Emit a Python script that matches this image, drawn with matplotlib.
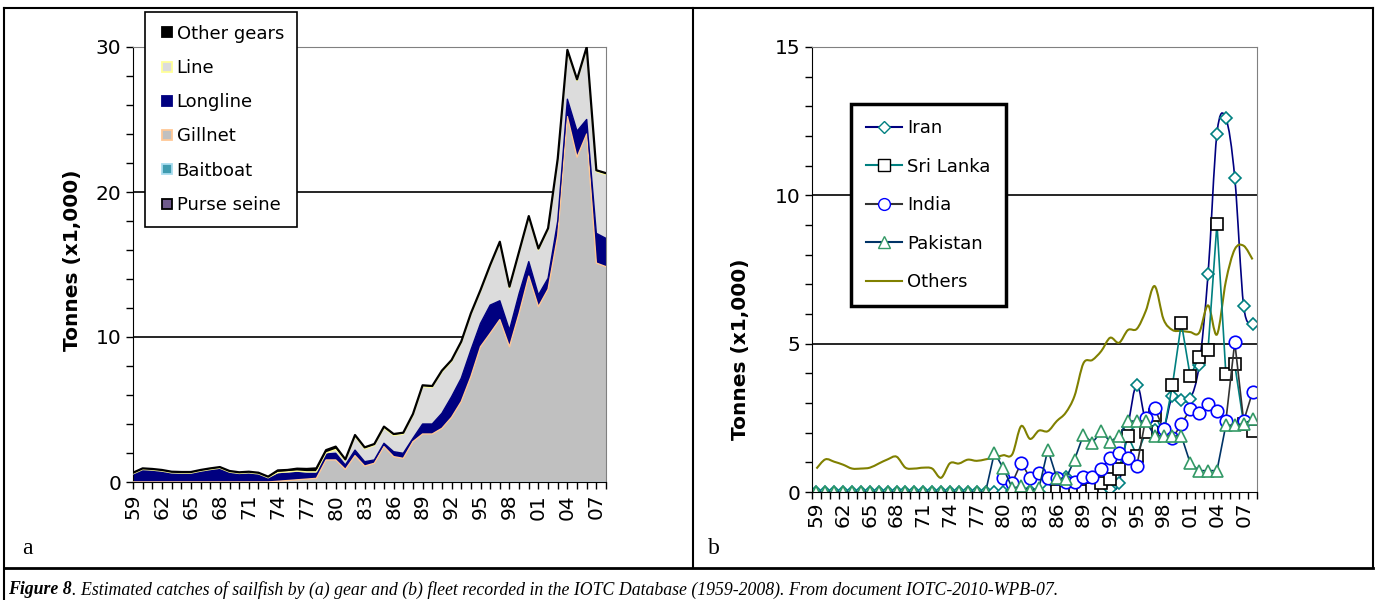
import numpy as np
import matplotlib
matplotlib.use('Agg')
import matplotlib.pyplot as plt
from matplotlib.path import Path
from matplotlib.patches import PathPatch
from matplotlib.lines import Line2D

# ---- data -------------------------------------------------------------
years = list(range(1959, 2009))

# panel a: catches by gear (x1,000 t), stacked bottom -> top
purse_seine = [0.0] * 50
baitboat = [0.0] * 50
gillnet = [0.0] * 15 + [0.05, 0.1, 0.15, 0.2, 0.25,
           1.52, 1.52, 0.87, 1.82, 1.10, 1.29, 2.44, 1.75, 1.63, 2.78,
           3.31, 3.31, 3.70, 4.46, 5.54, 7.26, 9.33, 10.25, 11.2, 9.33,
           11.63, 14.2, 12.09, 13.3, 17.0, 25.2, 22.4, 24.0, 15.1, 14.85]
longline = [0.52, 0.82, 0.78, 0.71, 0.59, 0.57, 0.57, 0.71, 0.82, 0.91,
            0.64, 0.55, 0.59, 0.52, 0.25, 0.5, 0.5, 0.5, 0.4, 0.35,
            0.41, 0.46, 0.30, 0.38, 0.30, 0.23, 0.23, 0.34, 0.35, 0.23,
            0.69, 0.69, 1.04, 1.42, 1.61, 1.84, 1.61, 1.95, 1.3, 1.15,
            1.37, 1.0, 0.81, 0.75, 1.0, 1.2, 1.8, 1.0, 2.05, 1.95]
line = [0.04] * 15 + [0.1, 0.1, 0.1, 0.1, 0.1,
        0.07, 0.26, 0.29, 0.94, 0.89, 1.0, 1.05, 1.12, 1.32, 1.58,
        2.57, 2.52, 2.84, 2.43, 2.43, 2.43, 2.2, 2.67, 3.97, 2.89,
        2.8, 3.04, 3.1, 3.35, 4.2, 3.3, 3.47, 4.9, 4.25, 4.4]
other_gears = [0.08] * 15 + [0.15, 0.13, 0.17, 0.2, 0.24, 0.2, 0.2] + [0.1] * 28

gear_names = ['Purse seine', 'Baitboat', 'Gillnet', 'Longline', 'Line', 'Other gears']
gear_fill = ['#6F5A8C', '#3F9CB0', '#C0C0C0', '#000080', '#DCDCDC', '#000000']
gear_edge = ['#000000', '#A8DCEF', '#FFC896', '#000080', '#FFFF99', '#000000']

# panel b: catches by fleet (x1,000 t)
nan = np.nan
iran = [0.0] * 21 + [0.0, 0.05, 0.0, 0.05, 0.0, 0.1, 0.4, 0.5, 0.2, 0.0,
        0.0, 0.05, 0.1, 0.3, 2.2, 3.62, 2.36, 2.1, 2.11, 3.24,
        3.09, 3.15, 4.27, 7.34, 12.08, 12.6, 10.6, 6.27, 5.65]
sri_lanka = [nan] * 27 + [0.05, 0.0, 0.0, 0.05, 0.1, 0.3, 0.43, 0.77, 1.89, 1.23,
             2.02, 2.6, 2.0, 3.6, 5.7, 3.9, 4.56, 4.8, 9.05, 3.99, 4.3, 2.3, 2.05]
india = [nan] * 21 + [0.48, 0.31, 0.99, 0.48, 0.65, 0.48, 0.48, 0.34, 0.34, 0.52,
         0.52, 0.77, 1.16, 1.33, 1.16, 0.88, 2.48, 2.82, 2.12, 1.81,
         2.29, 2.79, 2.66, 2.98, 2.74, 2.39, 5.05, 2.39, 3.37]
pakistan = [0.0] * 20 + [1.33, 0.8, 0.13, 0.19, 0.05, 0.13, 1.43, 0.48, 0.43, 1.09,
            1.93, 1.66, 2.04, 1.7, 1.89, 2.39, 2.39, 2.39, 1.89, 1.89,
            1.89, 1.89, 0.97, 0.72, 0.72, 0.72, 2.25, 2.25, 2.3, 2.45]
others = [0.79, 1.1, 1.02, 0.92, 0.79, 0.79, 0.82, 0.96, 1.1, 1.19,
          0.82, 0.79, 0.82, 0.79, 0.48, 0.97, 0.96, 1.09, 1.05, 1.1,
          1.16, 1.24, 1.27, 2.22, 1.79, 2.07, 2.05, 2.39, 2.67, 3.24,
          4.34, 4.45, 4.75, 5.2, 5.03, 5.46, 5.5, 6.1, 6.94, 5.82,
          5.46, 5.43, 5.39, 5.37, 6.29, 5.31, 7.1, 8.18, 8.3, 7.84]

FS = 14.5
LFS = 13
W, H = 1376, 600


def smooth_path(x, y):
    # Bezier curve through the points, like a spreadsheet "smoothed line"
    pts = np.column_stack([x, y])
    n = len(pts)
    verts = [pts[0]]
    codes = [Path.MOVETO]
    for i in range(n - 1):
        p0 = pts[max(i - 1, 0)]
        p1 = pts[i]
        p2 = pts[i + 1]
        p3 = pts[min(i + 2, n - 1)]
        verts += [p1 + (p2 - p0) / 6, p2 - (p3 - p1) / 6, p2]
        codes += [Path.CURVE4] * 3
    return Path(verts, codes)


def style_axes(ax):
    for s in ['top', 'right']:
        ax.spines[s].set_color('#808080')
    for s in ['left', 'bottom']:
        ax.spines[s].set_color('black')
    ax.tick_params(which='both', direction='out', length=5, width=1, labelsize=FS)


fig = plt.figure(figsize=(W / 100, H / 100), dpi=100)

# ---- panel a ----------------------------------------------------------
ax1 = fig.add_axes([133 / W, 1 - 482 / H, 473 / W, 435 / H])
layers = [purse_seine, baitboat, gillnet, longline, line, other_gears]
ax1.stackplot(years, *layers, colors=gear_fill, linewidth=0)
top = np.zeros(len(years))
for vals, ec in zip(layers, gear_edge):
    top = top + np.array(vals)
    if ec != '#000000' or vals is other_gears:
        lw = 1.6 if vals is other_gears else 1.0
        ax1.plot(years, top, color=ec, lw=lw, zorder=3)
ax1.set_xlim(1959, 2008)
ax1.set_ylim(0, 30)
ax1.set_yticks([0, 10, 20, 30])
ax1.set_yticks(np.arange(0, 31, 2), minor=True)
ax1.set_xticks(years[::3])
ax1.set_xticklabels(['%02d' % (y % 100) for y in years[::3]], rotation=90)
ax1.set_xticks(years, minor=True)
for v in [10, 20]:
    ax1.axhline(v, color='black', lw=1.2, zorder=0.5)
style_axes(ax1)
ax1.set_ylabel('Tonnes (x1,000)', fontsize=FS, fontweight='bold')
ax1.yaxis.set_label_coords(-0.108, 0.51)

h1 = [Line2D([], [], ls='none', marker='s', ms=7.5, mfc=f, mec=e, mew=1.3, label=n)
      for n, f, e in zip(gear_names, gear_fill, gear_edge)][::-1]
leg1 = fig.legend(handles=h1, loc='upper left', bbox_to_anchor=(145 / W, 1 - 12 / H),
                  fontsize=LFS, frameon=True, fancybox=False, framealpha=1,
                  edgecolor='black', handlelength=1.0, handletextpad=0.05,
                  labelspacing=0.9, borderpad=0.7, borderaxespad=0)
leg1.get_frame().set_linewidth(1.2)

# ---- panel b ----------------------------------------------------------
ax2 = fig.add_axes([812 / W, 1 - 492 / H, 445 / W, 445 / H])
xc = np.arange(len(years)) + 0.5
ax2.add_patch(PathPatch(smooth_path(xc, iran), fill=False, edgecolor='#000080', lw=1.2))
ax2.plot(xc, iran, ls='none', marker='D', ms=6.5, mfc='white', mec='#008080', mew=1.2)
ax2.plot(xc, sri_lanka, color='#008080', lw=1.2, marker='s', ms=8.5, mfc='white',
         mec='black', mew=1.2)
ax2.plot(xc, india, color='#333333', lw=1.2, marker='o', ms=9, mfc='white',
         mec='#0000FF', mew=1.2)
ax2.plot(xc, pakistan, color='#003366', lw=1.2, marker='^', ms=9, mfc='white',
         mec='#339966', mew=1.2)
ax2.add_patch(PathPatch(smooth_path(xc, others), fill=False, edgecolor='#808000', lw=1.5))
ax2.set_xlim(0, len(years))
ax2.set_ylim(0, 15)
ax2.set_yticks([0, 5, 10, 15])
ax2.set_yticks(np.arange(0, 16, 1), minor=True)
ax2.set_xticks(xc[::3])
ax2.set_xticklabels(['%02d' % (y % 100) for y in years[::3]], rotation=90)
ax2.set_xticks(np.arange(0, len(years) + 1), minor=True)
for v in [5, 10]:
    ax2.axhline(v, color='black', lw=1.2, zorder=0.5)
style_axes(ax2)
ax2.tick_params(axis='x', which='major', length=0, pad=7)
ax2.set_ylabel('Tonnes (x1,000)', fontsize=FS, fontweight='bold')
ax2.yaxis.set_label_coords(-0.139, 0.32)

h2 = [Line2D([], [], color='#000080', marker='D', ms=6.5, mfc='white', mec='#008080', label='Iran'),
      Line2D([], [], color='#008080', marker='s', ms=8, mfc='white', mec='black', label='Sri Lanka'),
      Line2D([], [], color='#333333', marker='o', ms=8.5, mfc='white', mec='#0000FF', label='India'),
      Line2D([], [], color='#003366', marker='^', ms=8.5, mfc='white', mec='#339966', label='Pakistan'),
      Line2D([], [], color='#808000', lw=1.5, label='Others')]
leg2 = fig.legend(handles=h2, loc='upper left', bbox_to_anchor=(851 / W, 1 - 104 / H),
                  fontsize=LFS, frameon=True, fancybox=False, framealpha=1,
                  edgecolor='black', handlelength=2.0, handletextpad=0.25,
                  labelspacing=1.13, borderpad=0.85, borderaxespad=0)
leg2.get_frame().set_linewidth(2.5)

# ---- frame, panel letters and caption ---------------------------------
def fline(x0, y0, x1, y1, lw=1.5):
    fig.add_artist(Line2D([x0 / W, x1 / W], [1 - y0 / H, 1 - y1 / H],
                          color='black', lw=lw, transform=fig.transFigure))

fline(4, 8, 1373, 8)
fline(4, 8, 4, 600)
fline(1373, 8, 1373, 568)
fline(693, 8, 693, 568)
fline(4, 568, 1373, 568, lw=2)

fig.text(22 / W, 1 - 548 / H, 'a', fontsize=17, family='Liberation Serif', va='center')
fig.text(708 / W, 1 - 548 / H, 'b', fontsize=17, family='Liberation Serif', va='center')

t1 = fig.text(8 / W, 1 - 590 / H, 'Figure 8', fontsize=12.8, family='Liberation Serif',
              style='italic', weight='bold', va='center')
fig.canvas.draw()
bb = t1.get_window_extent(fig.canvas.get_renderer())
fig.text(bb.x1 / W, 1 - 590 / H,
         '. Estimated catches of sailfish by (a) gear and (b) fleet recorded in the IOTC '
         'Database (1959-2008). From document IOTC-2010-WPB-07.',
         fontsize=12.8, family='Liberation Serif', style='italic', va='center')

fig.savefig('out.png', dpi=100)
